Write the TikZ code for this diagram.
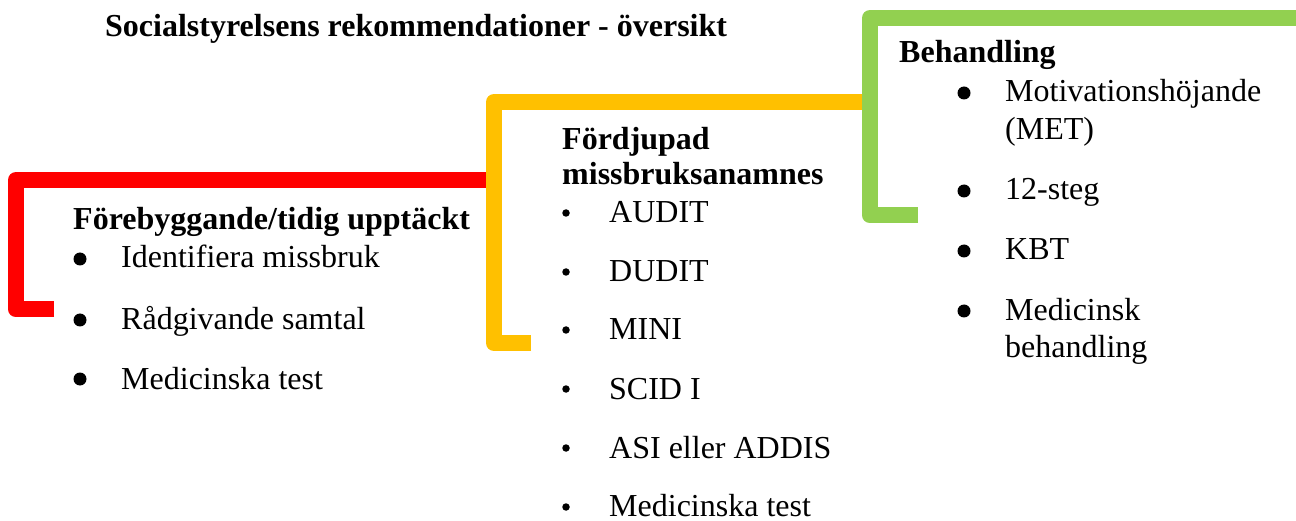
\documentclass[tikz,border=0pt]{standalone}
\usepackage{fontspec}
\setmainfont{Liberation Serif}
\definecolor{cred}{HTML}{FF0000}
\definecolor{corange}{HTML}{FFC000}
\definecolor{cgreen}{HTML}{92D050}
\begin{document}
\begin{tikzpicture}[x=1pt,y=-1pt,
 txt/.style={anchor=base west,inner sep=0pt,font=\fontsize{32}{38}\selectfont},
 head/.style={anchor=base west,inner sep=0pt,font=\fontsize{32}{38}\selectfont\bfseries},
 bracket/.style={line width=16pt,line join=round,line cap=butt},
 bigdot/.style={circle,fill=black,inner sep=0pt,minimum size=13pt},
 smalldot/.style={circle,fill=black,inner sep=0pt,minimum size=7.5pt}]
\useasboundingbox (0,0) rectangle (1296,521);
% brackets
\draw[bracket,cred] (54,309.5) -- (16,309.5) -- (16,180) -- (494,180);
\draw[bracket,corange] (531,343) -- (494,343) -- (494,102) -- (870,102);
\draw[bracket,cgreen] (918,215.5) -- (870,215.5) -- (870,18) -- (1296,18);
% title
\node[head] (title) at (105,37) {Socialstyrelsens rekommendationer - översikt};
% red group
\node[head] (h1) at (73,230) {Förebyggande/tidig upptäckt};
\node[bigdot] (b11) at (80,259) {};
\node[txt] (t11) at (121,268) {Identifiera missbruk};
\node[bigdot] (b12) at (80,320) {};
\node[txt] (t12) at (121,330) {Rådgivande samtal};
\node[bigdot] (b13) at (80,379) {};
\node[txt] (t13) at (121,389) {Medicinska test};
% orange group
\node[head] (h2a) at (562,150) {Fördjupad};
\node[head] (h2b) at (562,185) {missbruksanamnes};
\node[smalldot] (b21) at (566,213) {};
\node[txt] (t21) at (609,223) {AUDIT};
\node[smalldot] (b22) at (566,272) {};
\node[txt] (t22) at (609,282) {DUDIT};
\node[smalldot] (b23) at (566,330) {};
\node[txt] (t23) at (609,340) {MINI};
\node[smalldot] (b24) at (566,389) {};
\node[txt] (t24) at (609,399) {SCID I};
\node[smalldot] (b25) at (566,448) {};
\node[txt] (t25) at (609,458) {ASI eller ADDIS};
\node[smalldot] (b26) at (566,507) {};
\node[txt] (t26) at (609,516) {Medicinska test};
% green group
\node[head] (h3) at (899,63) {Behandling};
\node[bigdot] (b31) at (964,93) {};
\node[txt] (t31a) at (1005,102) {Motivationshöjande};
\node[txt] (t31b) at (1005,140) {(MET)};
\node[bigdot] (b32) at (964,191) {};
\node[txt] (t32) at (1005,200) {12-steg};
\node[bigdot] (b33) at (964,251) {};
\node[txt] (t33) at (1005,260) {KBT};
\node[bigdot] (b34) at (964,311) {};
\node[txt] (t34a) at (1005,320) {Medicinsk};
\node[txt] (t34b) at (1005,357) {behandling};
\end{tikzpicture}
\end{document}
